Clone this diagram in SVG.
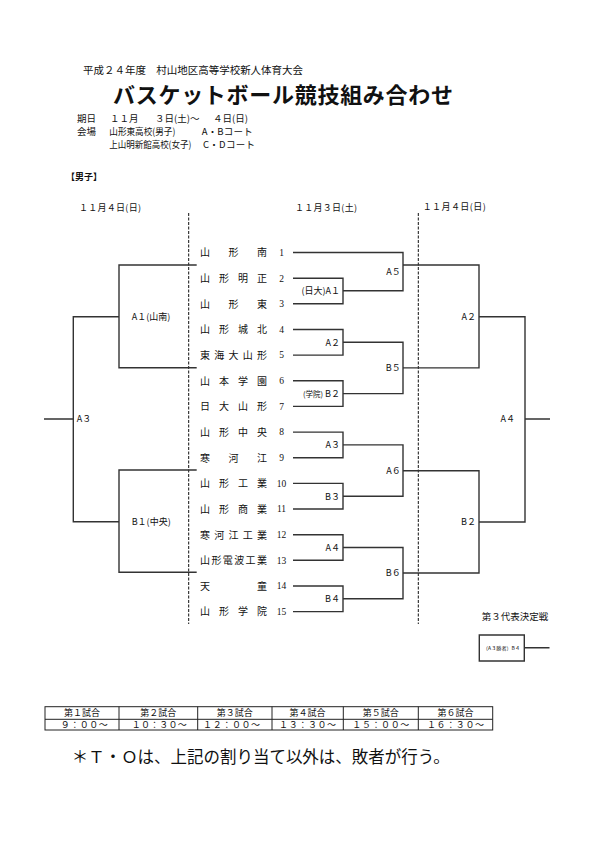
<svg xmlns="http://www.w3.org/2000/svg" width="595" height="842" viewBox="0 0 595 842">
<style>
text{font-family:"Noto Sans CJK JP","Liberation Serif",serif;fill:#111}
.h{font-size:9.5px}
.t{font-size:10px}
.n{font-size:9.5px;font-family:"Liberation Serif","Noto Sans CJK JP",serif;text-anchor:middle}
.l{font-size:9px}
.e{text-anchor:end}
.d{font-size:9px}
.ln{fill:none;stroke:#333;stroke-width:1.4}
.ds{fill:none;stroke:#111;stroke-width:1;stroke-dasharray:3,1.5}
.tb{fill:none;stroke:#222;stroke-width:1}
</style>
<rect width="595" height="842" fill="#fff"/>
<g id="header">
<text x="83" y="74" style="font-size:10.5px" textLength="220" lengthAdjust="spacing">平成２４年度　村山地区高等学校新人体育大会</text>
<text x="113" y="102.5" style="font-size:22px;font-weight:bold" textLength="340" lengthAdjust="spacing">バスケットボール競技組み合わせ</text>
<text class="h" x="77" y="122">期日</text>
<text class="h" x="110" y="122">１１月</text>
<text class="h" x="155" y="122">３日(土)～</text>
<text class="h" x="213" y="122">４日(日)</text>
<text class="h" x="77" y="135.3">会場</text>
<text class="h" x="109.3" y="135.3" textLength="66" lengthAdjust="spacingAndGlyphs">山形東高校(男子)</text>
<text class="h" x="201.7" y="135.3" textLength="51" lengthAdjust="spacing">A・Bコート</text>
<text class="h" x="109.3" y="148" textLength="82" lengthAdjust="spacingAndGlyphs">上山明新館高校(女子)</text>
<text class="h" x="203" y="148" textLength="52" lengthAdjust="spacing">C・Dコート</text>
<text x="66" y="179.5" style="font-size:9px;font-weight:bold">【男子】</text>
<text class="d" x="79" y="210.7" textLength="62" lengthAdjust="spacing">１１月４日(日)</text>
<text class="d" x="295" y="210.7" textLength="62" lengthAdjust="spacing">１１月３日(土)</text>
<text class="d" x="422.7" y="209.5" textLength="63" lengthAdjust="spacing">１１月４日(日)</text>
</g>
<g id="connectors">
<path class="ds" d="M188.7,213 V624 M418.3,213 V624"/>
<path class="ln" d="M293,252.5 H403 V290.7 H343 M293,278.2 H343 V303.8 H293"/>
<path class="ln" d="M293,329.5 H343 V355.1 H293 M293,380.8 H343 V406.4 H293 M343,342.3 H403 V393.6 H343"/>
<path class="ln" d="M293,432.1 H343 V457.7 H293 M293,483.4 H343 V509 H293 M343,444.9 H403 V496.2 H343"/>
<path class="ln" d="M293,534.7 H343 V560.3 H293 M293,586 H343 V611.6 H293 M343,547.5 H403 V598.8 H343"/>
<path class="ln" d="M403,265 H479 V367.9 H403 M403,470.7 H479 V573 H403 M479,316.7 H525 V522 H479 M525,419 H550"/>
<path class="ln" d="M196.7,265 H119 V367.7 H196.7 M196.7,470 H119 V572.3 H196.7 M119,316.7 H73.3 V521.7 H119 M73.3,419 H44"/>
<path class="ln" d="M479.3,635 H524.3 V661 H479.3 Z M524.3,647.7 H549.5"/>
</g>
<g id="team1"><text class="t" x="200" y="256.3" textLength="67" lengthAdjust="spacing">山形南</text><text class="n" x="281.5" y="255.8">1</text></g>
<g id="team2"><text class="t" x="200" y="282" textLength="67" lengthAdjust="spacing">山形明正</text><text class="n" x="281.5" y="281.5">2</text></g>
<g id="team3"><text class="t" x="200" y="307.6" textLength="67" lengthAdjust="spacing">山形東</text><text class="n" x="281.5" y="307.1">3</text></g>
<g id="team4"><text class="t" x="200" y="333.3" textLength="67" lengthAdjust="spacing">山形城北</text><text class="n" x="281.5" y="332.8">4</text></g>
<g id="team5"><text class="t" x="200" y="358.9" textLength="67" lengthAdjust="spacing">東海大山形</text><text class="n" x="281.5" y="358.4">5</text></g>
<g id="team6"><text class="t" x="200" y="384.6" textLength="67" lengthAdjust="spacing">山本学園</text><text class="n" x="281.5" y="384.1">6</text></g>
<g id="team7"><text class="t" x="200" y="410.2" textLength="67" lengthAdjust="spacing">日大山形</text><text class="n" x="281.5" y="409.7">7</text></g>
<g id="team8"><text class="t" x="200" y="435.9" textLength="67" lengthAdjust="spacing">山形中央</text><text class="n" x="281.5" y="435.4">8</text></g>
<g id="team9"><text class="t" x="200" y="461.5" textLength="67" lengthAdjust="spacing">寒河江</text><text class="n" x="281.5" y="461">9</text></g>
<g id="team10"><text class="t" x="200" y="487.2" textLength="67" lengthAdjust="spacing">山形工業</text><text class="n" x="281.5" y="486.7">10</text></g>
<g id="team11"><text class="t" x="200" y="512.8" textLength="67" lengthAdjust="spacing">山形商業</text><text class="n" x="281.5" y="512.3">11</text></g>
<g id="team12"><text class="t" x="200" y="538.5" textLength="67" lengthAdjust="spacing">寒河江工業</text><text class="n" x="281.5" y="538">12</text></g>
<g id="team13"><text class="t" x="200" y="564.1" textLength="67" lengthAdjust="spacing">山形電波工業</text><text class="n" x="281.5" y="563.6">13</text></g>
<g id="team14"><text class="t" x="200" y="589.8" textLength="67" lengthAdjust="spacing">天童</text><text class="n" x="281.5" y="589.3">14</text></g>
<g id="team15"><text class="t" x="200" y="615.4" textLength="67" lengthAdjust="spacing">山形学院</text><text class="n" x="281.5" y="614.9">15</text></g>
<g id="m-A1"><text class="l e" x="340" y="294">(日大)A１</text></g>
<g id="m-A2"><text class="l e" x="340" y="345.6">A２</text></g>
<g id="m-B2"><text class="l e" x="340" y="397"><tspan style="font-size:7.5px">(学院)</tspan> B２</text></g>
<g id="m-A3"><text class="l e" x="340" y="448.2">A３</text></g>
<g id="m-B3"><text class="l e" x="340" y="499.5">B３</text></g>
<g id="m-A4"><text class="l e" x="340" y="550.8">A４</text></g>
<g id="m-B4"><text class="l e" x="340" y="602.1">B４</text></g>
<g id="m-A5"><text class="l e" x="400.7" y="275.4">A５</text></g>
<g id="m-B5"><text class="l e" x="400.7" y="371">B５</text></g>
<g id="m-A6"><text class="l e" x="400.7" y="474">A６</text></g>
<g id="m-B6"><text class="l e" x="400.7" y="576.4">B６</text></g>
<g id="r-A2"><text class="l e" x="476" y="320">A２</text></g>
<g id="r-B2"><text class="l e" x="476" y="525.4">B２</text></g>
<g id="r-A4"><text class="l e" x="515" y="422.4">A４</text></g>
<g id="l-A1"><text class="l" x="131.7" y="320">A１(山南)</text></g>
<g id="l-B1"><text class="l" x="131.7" y="525">B１(中央)</text></g>
<g id="l-A3"><text class="l" x="76.7" y="422.4">A３</text></g>
<g id="third">
<text x="481.7" y="620.2" style="font-size:9.5px" textLength="66.6" lengthAdjust="spacing">第３代表決定戦</text>
<text x="483" y="649.7" style="font-size:5px" textLength="37" lengthAdjust="spacing">（A３勝者）B４</text>
</g>
<g id="schedule">
<rect class="tb" x="45" y="706.7" width="447.7" height="23.3"/>
<path class="tb" d="M45,719.3 H492.7 M119,706.7 V730 M197.7,706.7 V730 M272,706.7 V730 M343.3,706.7 V730 M418.3,706.7 V730"/>
<g style="font-size:9px;text-anchor:middle">
<text x="82" y="716.3">第１試合</text>
<text x="158.3" y="716.3">第２試合</text>
<text x="234.8" y="716.3">第３試合</text>
<text x="307.6" y="716.3">第４試合</text>
<text x="380.8" y="716.3">第５試合</text>
<text x="455.5" y="716.3">第６試合</text>
<text x="84.3" y="728.4" textLength="47" lengthAdjust="spacing">９：００～</text>
<text x="159.2" y="728.4" textLength="55" lengthAdjust="spacing">１０：３０～</text>
<text x="231.6" y="728.4" textLength="57" lengthAdjust="spacing">１２：００～</text>
<text x="307.6" y="728.4" textLength="57" lengthAdjust="spacing">１３：３０～</text>
<text x="380.8" y="728.4" textLength="57" lengthAdjust="spacing">１５：００～</text>
<text x="455.5" y="728.4" textLength="57" lengthAdjust="spacing">１６：３０～</text>
</g>
</g>
<g id="note"><text x="71.7" y="763" style="font-size:16.5px" textLength="378" lengthAdjust="spacing">＊Ｔ・Ｏは、上記の割り当て以外は、敗者が行う。</text></g>
</svg>
